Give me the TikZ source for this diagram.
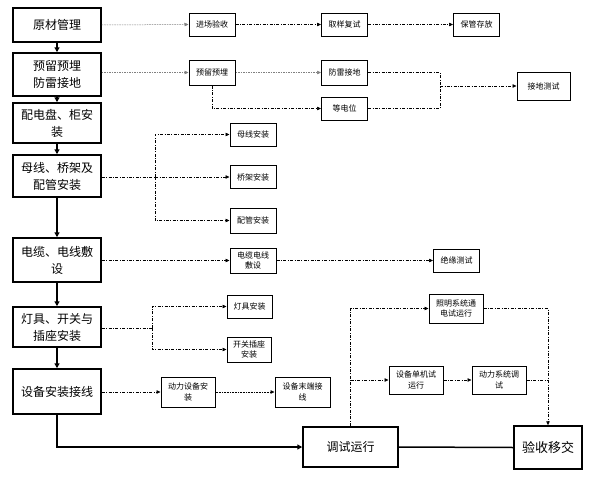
\documentclass[tikz,border=0pt]{standalone}
\usepackage{fontspec}
\setmainfont{Noto Sans CJK SC}
\usetikzlibrary{arrows.meta}

\begin{document}
\begin{tikzpicture}[x=1pt,y=-1pt,
    mainbox/.style={draw, line width=1.5pt, fill=white, minimum width=88pt, align=center, inner sep=1pt, font=\fontsize{12}{17}\selectfont},
    subbox/.style={draw, line width=1pt, fill=white, minimum width=46pt, minimum height=23pt, align=center, inner sep=1pt, font=\fontsize{8}{10.5}\selectfont},
    mainarrow/.style={line width=1.5pt, -{Triangle[length=5pt,width=5pt]}},
    dd/.style={line width=0.6pt, dash pattern=on 3pt off 1.5pt on 0.8pt off 1.5pt},
    ddarrow/.style={dd, -{Triangle[length=4pt,width=3.5pt]}},
    grayline/.style={line width=0.5pt, gray, dash pattern=on 1.5pt off 1pt},
    grayarrow/.style={grayline, -{Triangle[length=4pt,width=3.5pt]}, draw=gray}]
        \useasboundingbox (0,0) rectangle (589,482);

        % Main steps
        \node[mainbox, minimum height=34pt] (raw) at (57,25) {原材管理};
        \node[mainbox, minimum height=43pt] (embed) at (57,74.5) {预留预埋\\防雷接地};
        \node[mainbox, minimum height=40pt] (panel) at (57,123) {配电盘、柜安\\装};
        \node[mainbox, minimum height=42pt] (bus) at (57,176) {母线、桥架及\\配管安装};
        \node[mainbox, minimum height=44pt] (cable) at (57,260) {电缆、电线敷\\设};
        \node[mainbox, minimum height=40pt] (lamp) at (57,327) {灯具、开关与\\插座安装};
        \node[mainbox, minimum height=45pt] (wiring) at (57,391.5) {设备安装接线};
        \node[mainbox, minimum width=95pt, minimum height=40pt] (test) at (350.5,447) {调试运行};
        \node[mainbox, minimum width=68pt, minimum height=43pt, font=\fontsize{13}{17}\selectfont] (accept) at (548,447.5) {验收移交};

        % Sub steps
        \node[subbox] (inspect) at (212,24.5) {进场验收};
        \node[subbox] (sample) at (344.5,24.5) {取样复试};
        \node[subbox] (store) at (476.5,24.5) {保管存放};
        \node[subbox, minimum height=25pt] (embeds) at (212,72.5) {预留预埋};
        \node[subbox, minimum height=25pt] (lightning) at (344.5,72.5) {防雷接地};
        \node[subbox] (equipot) at (344.5,108.5) {等电位};
        \node[subbox, minimum width=53pt, minimum height=28pt] (ground) at (543.5,86) {接地测试};
        \node[subbox] (busbar) at (253,134.5) {母线安装};
        \node[subbox] (tray) at (253,177) {桥架安装};
        \node[subbox, minimum height=25pt] (conduit) at (253,220.5) {配管安装};
        \node[subbox, minimum height=25pt, text width=44pt] (cables) at (253,260.5) {电缆电线\\敷设};
        \node[subbox] (insul) at (456.5,260.5) {绝缘测试};
        \node[subbox, minimum width=45pt] (lamps) at (249.5,306.5) {灯具安装};
        \node[subbox, minimum width=44pt, minimum height=25pt] (switch) at (249,349.5) {开关插座\\安装};
        \node[subbox, minimum width=54pt, minimum height=30pt] (powerdev) at (188,392) {动力设备安\\装};
        \node[subbox, minimum width=55pt, minimum height=30pt] (enddev) at (302.5,392) {设备末端接\\线};
        \node[subbox, minimum width=54pt, minimum height=29pt] (lightrun) at (456,308.5) {照明系统通\\电试运行};
        \node[subbox, minimum width=54pt, minimum height=28pt] (single) at (416,380) {设备单机试\\运行};
        \node[subbox, minimum width=54pt, minimum height=28pt] (powersys) at (499,380) {动力系统调\\试};

        % Main flow
        \draw[mainarrow] (raw) -- (embed);
        \draw[mainarrow] (embed) -- (panel);
        \draw[mainarrow] (panel) -- (bus);
        \draw[mainarrow] (bus) -- (cable);
        \draw[mainarrow] (cable) -- (lamp);
        \draw[mainarrow] (lamp) -- (wiring);
        \draw[mainarrow] (wiring.south) |- (test.west);
        \draw[line width=1.5pt] (test.east) -- (accept.west);

        % Materials and embedding
        \draw[grayarrow] (raw.east) -- (inspect.west);
        \draw[ddarrow] (inspect) -- (sample);
        \draw[ddarrow] (sample) -- (store);
        \draw[grayarrow] (embed.east |- embeds) -- (embeds.west);
        \draw[grayarrow] (embeds) -- (lightning);
        \draw[ddarrow] (embeds.south) |- (equipot.west);
        \coordinate (gj) at (440,86);
        \draw[dd] (lightning.east) -| (gj);
        \draw[dd] (equipot.east) -| (gj);
        \draw[ddarrow] (gj) -- (ground.west);

        % Bus, tray and conduit
        \coordinate (bb) at (155,177);
        \draw[dd] (bus.east |- bb) -- (bb);
        \draw[ddarrow] (bb) |- (busbar.west);
        \draw[ddarrow] (bb) -- (tray.west);
        \draw[ddarrow] (bb) |- (conduit.west);

        % Cables
        \draw[ddarrow] (cable.east |- cables) -- (cables.west);
        \draw[ddarrow] (cables) -- (insul);

        % Lamps and switches
        \coordinate (lb) at (152,328);
        \draw[dd] (lamp.east |- lb) -- (lb);
        \draw[ddarrow] (lb) |- (lamps.west);
        \draw[ddarrow] (lb) |- (switch.west);

        % Equipment
        \draw[ddarrow] (wiring.east |- powerdev) -- (powerdev.west);
        \draw[line width=0.6pt, densely dotted, -{Triangle[length=4pt,width=3.5pt]}] (powerdev) -- (enddev);

        % Commissioning
        \draw[ddarrow] (test.north) |- (lightrun.west);
        \draw[ddarrow] (test.north |- single) -- (single.west);
        \draw[ddarrow] (single) -- (powersys);
        \draw[ddarrow] (lightrun.east) -| (accept.north);
        \draw[dd] (powersys.east) -- (powersys.east -| accept.north);
    \end{tikzpicture}
\end{document}
